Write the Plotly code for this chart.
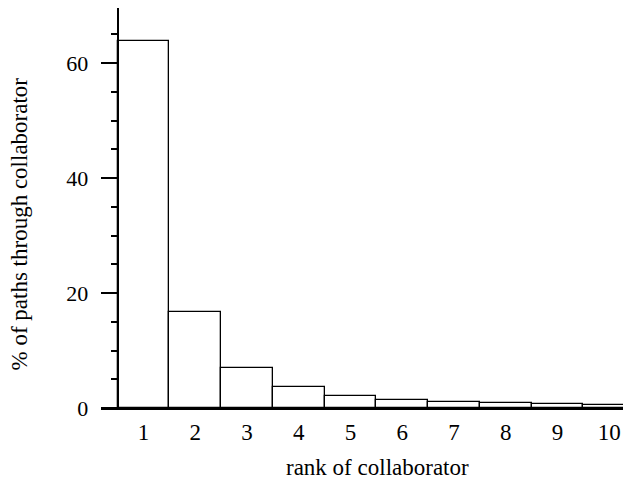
import plotly.graph_objects as go

ranks = [1, 2, 3, 4, 5, 6, 7, 8, 9, 10]
pct_paths = [63.8, 16.7, 7.0, 3.65, 2.15, 1.4, 1.1, 0.8, 0.62, 0.5]
y_ticks = [0, 20, 40, 60]

x0, x1 = 0.179, 10.421
ypos = (0.5 - x0) / (x1 - x0)
FONT = "Liberation Serif"

fig = go.Figure(go.Bar(
    x=ranks, y=pct_paths, width=1.0,
    marker=dict(color="white", line=dict(color="black", width=1.3)),
))

fig.update_layout(
    width=623, height=479,
    margin=dict(l=93, r=0, t=0, b=79),
    plot_bgcolor="white", paper_bgcolor="white",
    font=dict(family=FONT, size=23, color="black"),
    showlegend=False,
    bargap=0,
    annotations=[
        dict(text="rank of collaborator", xref="paper", yref="paper",
             x=0.5226, y=0, xanchor="center", yanchor="top", yshift=-45,
             showarrow=False, font=dict(family=FONT, size=23)),
        dict(text="% of paths through collaborator", xref="paper", yref="paper",
             x=-0.153, y=0.461, xanchor="center", yanchor="middle", textangle=-90,
             showarrow=False, font=dict(family=FONT, size=23)),
    ],
)
fig.update_xaxes(
    range=[x0, x1], tickvals=ranks, ticktext=[str(r) for r in ranks],
    showline=True, linecolor="black", linewidth=2, ticks="",
    showgrid=False, zeroline=False, ticklabelstandoff=2,
    tickfont=dict(family=FONT, size=23),
)
fig.update_yaxes(
    range=[0, 69.6], tickvals=y_ticks, anchor="free", position=ypos,
    showline=True, linecolor="black", linewidth=2,
    ticks="outside", ticklen=16, tickwidth=2, tickcolor="black",
    minor=dict(dtick=5, ticks="outside", ticklen=6, tickwidth=1.5, tickcolor="black", showgrid=False),
    showgrid=False, zeroline=False, ticklabelstandoff=8,
    tickfont=dict(family=FONT, size=22),
)

fig.write_html("out.html")
